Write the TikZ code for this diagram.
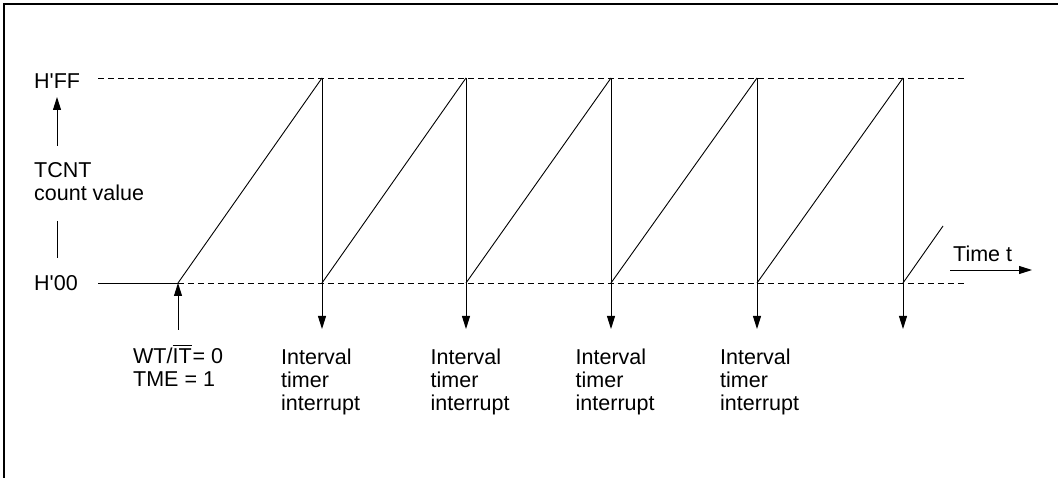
\documentclass[tikz,border=0pt]{standalone}
\usepackage{fontspec}
\newfontfamily\arialfont{Liberation Sans}
\usetikzlibrary{arrows.meta}
\newcommand{\barIT}{\leavevmode\vbox{\hrule height 1pt\kern3pt\hbox{IT}}}
\begin{document}
\begin{tikzpicture}[x=1pt,y=-1pt,
  every node/.style={font=\arialfont\fontsize{21.5}{23}\selectfont, inner sep=0pt},
  lbl/.style={anchor=base west, align=left},
  wave/.style={line width=0.9pt},
  guide/.style={line width=0.9pt, dash pattern=on 6pt off 4pt},
  arr/.style={line width=0.9pt, -{Triangle[length=13pt,width=8pt]}}]
\useasboundingbox (0,0) rectangle (1058,478);
\draw[line width=1.4pt] (4,480) -- (4,4) -- (1060,4);
% levels
\coordinate (ffL) at (98,78);
\coordinate (ffR) at (967,78);
\coordinate (zL) at (98,283);
\coordinate (zR) at (967,283);
\coordinate (s0) at (178,283);
\draw[guide] (ffL) -- (ffR);
\draw[guide] (s0) -- (zR);
\draw[wave] (zL) -- (s0);
% peaks and bases
\foreach \i/\x in {1/322,2/466,3/611,4/757,5/903}{
  \coordinate (p\i) at (\x,78);
  \coordinate (b\i) at (\x,283);
  \coordinate (d\i) at (\x,329);
}
\coordinate (end) at (943,226);
\draw[wave] (s0) -- (p1) (b1) -- (p2) (b2) -- (p3) (b3) -- (p4) (b4) -- (p5) (b5) -- (end);
\foreach \i in {1,...,5}{ \draw[arr] (p\i) -- (d\i); }
% start arrow
\coordinate (st) at (178,330);
\draw[arr] (st) -- (s0);
% y labels (base = baseline of last line)
\node[lbl] (hff) at (34,89) {H'FF};
\node[lbl] (h00) at (34,290.5) {H'00};
\node[lbl] (tcnt) at (34,200.5) {TCNT\\count value};
\coordinate (ua1) at (57,146);
\coordinate (ua2) at (57,97);
\draw[arr] (ua1) -- (ua2);
\coordinate (ul1) at (57,221);
\coordinate (ul2) at (57,258);
\draw[wave] (ul1) -- (ul2);
% time axis
\coordinate (t1) at (950,270);
\coordinate (t2) at (1032,270);
\draw[arr] (t1) -- (t2);
\node[lbl] (tt) at (953,262) {Time t};
% bottom labels
\node[lbl] (wt) at (133,387) {WT/\barIT\kern1pt= 0\\TME = 1};
\node[lbl] (i1) at (281,410) {Interval\\timer\\interrupt};
\node[lbl] (i2) at (430.5,410) {Interval\\timer\\interrupt};
\node[lbl] (i3) at (575.5,410) {Interval\\timer\\interrupt};
\node[lbl] (i4) at (720,410) {Interval\\timer\\interrupt};
\end{tikzpicture}
\end{document}
